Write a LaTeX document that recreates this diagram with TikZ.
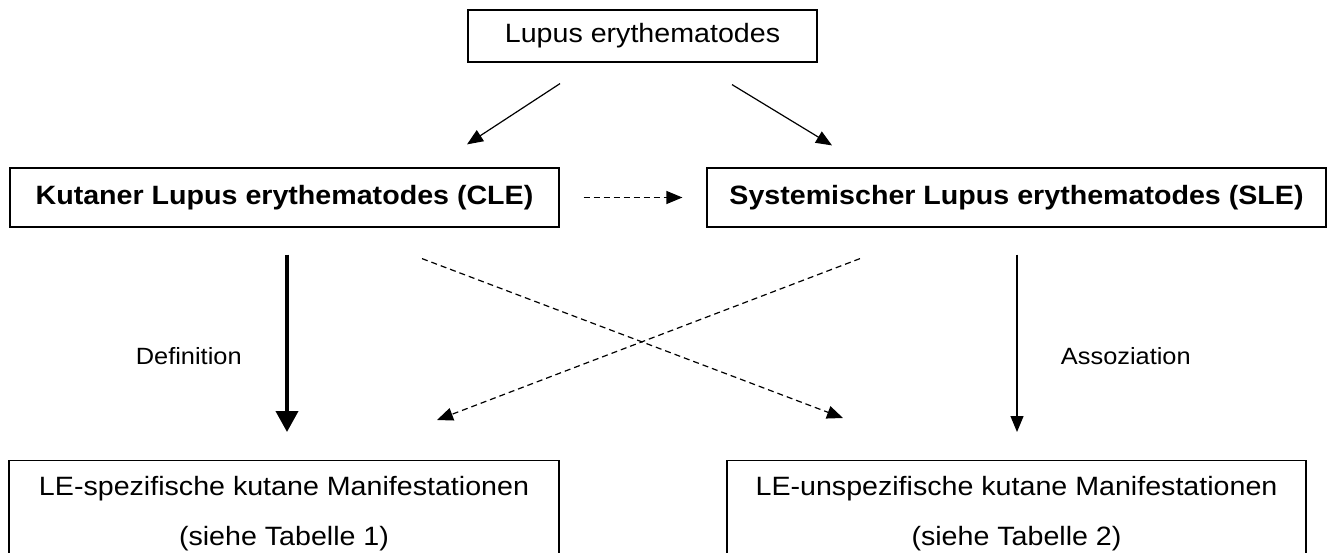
\documentclass[tikz,border=0pt]{standalone}
\usepackage{fontspec}
\setmainfont{Liberation Sans}[FakeStretch=1.08]
\usetikzlibrary{arrows.meta,positioning}
\tikzset{
  kasten/.style={draw,line width=1.2pt,inner sep=0pt,font=\fontsize{26.5}{50}\selectfont},
  fett/.style={font=\fontsize{26.5}{50}\selectfont\bfseries},
  pfeil/.style={line width=1.2pt,-{Triangle[length=16pt,width=13pt]}},
  strich/.style={pfeil,dash pattern=on 6pt off 4pt},
  dick/.style={line width=4pt,-{Triangle[length=21pt,width=22pt]}},
  beschr/.style={font=\fontsize{23.5}{28}\selectfont}
}
\begin{document}
\begin{tikzpicture}[x=1pt,y=-1pt] %---- Lupus erythematodes
\useasboundingbox (0,0) rectangle (1332,553);
\clip (0,0) rectangle (1332,553);
\node[kasten,minimum width=349,minimum height=52] (le) at (642.5,36) {Lupus erythematodes};
\node[kasten,fett,minimum width=549,minimum height=59] (cle) at (284.5,197.5) {Kutaner Lupus erythematodes (CLE)};
\node[kasten,fett,minimum width=619,minimum height=59] (sle) at (1016.5,197.5) {Systemischer Lupus erythematodes (SLE)};
% --- cut off at the bottom
\node[kasten,minimum width=550,inner ysep=16pt,align=center,anchor=north] (spez) at (284,460) {LE-spezifische kutane Manifestationen\\(siehe Tabelle 1)};
\node[kasten,minimum width=579,inner ysep=16pt,align=center,anchor=north] (unspez) at (1016.5,460) {LE-unspezifische kutane Manifestationen\\(siehe Tabelle 2)};
% --- arrows
\draw[pfeil] ([xshift=-82.5pt,yshift=-21pt]le.south) -- ([xshift=182.5pt,yshift=23pt]cle.north);
\draw[pfeil] ([xshift=89.5pt,yshift=-22pt]le.south) -- ([xshift=-184.5pt,yshift=22pt]sle.north);
\draw[strich] ([xshift=24pt]cle.east) -- ([xshift=-24pt]sle.west);
\draw[dick] ([xshift=2.5pt,yshift=-27pt]cle.south) -- ([xshift=3pt,yshift=28pt]spez.north)
  node[beschr,pos=0.57,left=40pt] (defi) {Definition};
\draw[pfeil] ([xshift=0.5pt,yshift=-27pt]sle.south) -- ([xshift=0.5pt,yshift=28pt]unspez.north)
  node[beschr,pos=0.57,right=40pt] (asso) {Assoziation};
\draw[strich] ([xshift=137.5pt,yshift=-31pt]cle.south) -- ([xshift=-173.5pt,yshift=42pt]unspez.north);
\draw[strich] ([xshift=-156.5pt,yshift=-31pt]sle.south) -- ([xshift=153pt,yshift=40pt]spez.north);
\end{tikzpicture}
\end{document}
